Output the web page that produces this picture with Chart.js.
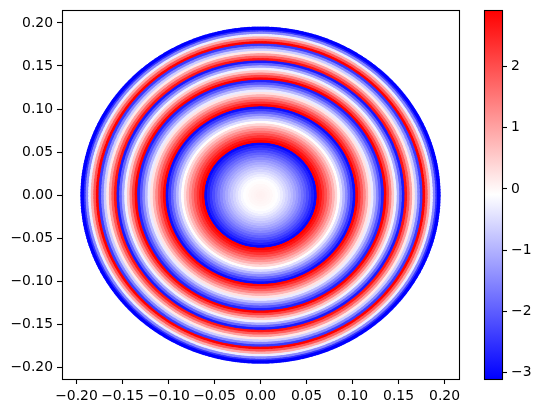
<!DOCTYPE html>
<html>
<head>
<meta charset="utf-8">
<script src="https://cdn.jsdelivr.net/npm/chart.js@4"></script>
<style>
body { margin: 0; background: #fff; }
canvas { position: absolute; top: 0; }
#cnvMain { left: 0; }
#cnvBar { left: 462px; }
</style>
</head>
<body>
<canvas id="cnvMain" width="542" height="413"></canvas>
<canvas id="cnvBar" width="80" height="413"></canvas>
<script>
// radial profile, centre to edge
var ringRadius = [0, 0.0016, 0.0044, 0.0072, 0.01, 0.0128, 0.0156, 0.0184, 0.0212, 0.024,
    0.0268, 0.0296, 0.0324, 0.0352, 0.038, 0.0408, 0.0436, 0.0464, 0.0492, 0.052,
    0.0548, 0.0576, 0.0604, 0.0632, 0.066, 0.0688, 0.0716, 0.0744, 0.0772, 0.08,
    0.0828, 0.0856, 0.0884, 0.0912, 0.094, 0.0968, 0.0996, 0.1024, 0.1052, 0.108,
    0.1108, 0.1136, 0.1164, 0.1192, 0.122, 0.1248, 0.1276, 0.1304, 0.1332, 0.136,
    0.1388, 0.1416, 0.1444, 0.1472, 0.15, 0.1528, 0.1556, 0.1584, 0.1612, 0.164,
    0.1668, 0.1696, 0.1724, 0.1752, 0.178, 0.1808, 0.1836, 0.1864, 0.1892, 0.192, 0.1938];
var ringPhase = [0.08, 0.07, 0.06, 0.04, 0.02, -0.01, -0.05, -0.10, -0.17, -0.30,
    -0.46, -0.60, -0.75, -0.92, -1.09, -1.29, -1.49, -1.71, -1.94, -2.18,
    -2.44, -2.71, -2.99, 2.92, 2.65, 2.30, 1.95, 1.57, 1.19, 0.78,
    0.37, -0.06, -0.50, -0.96, -1.43, -1.92, -2.42, -2.93, 2.85, 2.35,
    1.84, 1.32, 0.78, 0.24, -0.33, -0.90, -1.49, -2.09, -2.70, 2.92,
    2.15, 1.36, 0.56, -0.25, -1.08, -1.93, -2.79, 2.66, 1.85, 1.02,
    0.18, -0.68, -1.54, -2.43, 2.92, 1.90, 0.90, -0.30, -1.50, -2.50, -3.10];
var xTicks = [-0.20, -0.15, -0.10, -0.05, 0, 0.05, 0.10, 0.15, 0.20];
var yTicks = [-0.20, -0.15, -0.10, -0.05, 0, 0.05, 0.10, 0.15, 0.20];
var barTicks = [-3, -2, -1, 0, 1, 2];
var phaseMin = -3.105;
var phaseMax = 2.925;

var fuente = { family: "'DejaVu Sans'", size: 13.9 };

function colorFase(v) {
    var t = (v - phaseMin) / (phaseMax - phaseMin);
    if (t < 0) t = 0;
    if (t > 1) t = 1;
    if (t < 0.5) {
        var c = Math.round(255 * t * 2);
        return 'rgb(' + c + ',' + c + ',255)';
    }
    var d = Math.round(255 * (1 - t) * 2);
    return 'rgb(255,' + d + ',' + d + ')';
}

function etiqueta(v, dec) {
    var s = Math.abs(v).toFixed(dec);
    return v < 0 ? '\u2212' + s : s;
}

// the tick labels should not push the plot area around
function sinRelleno(s) {
    s.paddingTop = 0;
    s.paddingBottom = 0;
    s.paddingLeft = 0;
    s.paddingRight = 0;
}

// axes frame, all four sides
var marco = {
    id: 'marco',
    afterDraw: function (chart) {
        var a = chart.chartArea;
        var ctx = chart.ctx;
        ctx.save();
        ctx.strokeStyle = '#000';
        ctx.lineWidth = 1.1;
        ctx.strokeRect(a.left + 0.5, a.top + 0.5, a.right - a.left, a.bottom - a.top);
        ctx.restore();
    }
};

var puntos = [];
var colores = [];
for (let index = 0; index < ringRadius.length; index++) {
    for (let g = 0; g < 720; g++) {
        puntos.push({
            x: ringRadius[index] * Math.cos(g * Math.PI / 360),
            y: ringRadius[index] * Math.sin(g * Math.PI / 360)
        });
        colores.push(colorFase(ringPhase[index]));
    }
}

new Chart(document.getElementById('cnvMain').getContext('2d'), {
    type: 'scatter',
    data: {
        datasets: [{
            data: puntos,
            pointBackgroundColor: colores,
            pointBorderWidth: 0,
            pointRadius: 1.8
        }]
    },
    options: {
        responsive: false,
        animation: false,
        layout: { padding: { top: 10, right: 83, left: 0, bottom: 0 } },
        plugins: { legend: { display: false }, tooltip: { enabled: false } },
        scales: {
            x: {
                min: -0.2157,
                max: 0.2157,
                afterFit: function (s) { s.height = 34; sinRelleno(s); },
                afterBuildTicks: function (s) { s.ticks = xTicks.map(v => ({ value: v })); },
                border: { display: false },
                grid: { drawOnChartArea: false, tickLength: 5, tickColor: '#000', tickWidth: 1.1 },
                ticks: {
                    color: '#000', font: fuente, padding: 4, maxRotation: 0, autoSkip: false,
                    callback: function (v) { return etiqueta(v, 2); }
                }
            },
            y: {
                min: -0.2135,
                max: 0.215,
                afterFit: function (s) { s.width = 62; sinRelleno(s); },
                afterBuildTicks: function (s) { s.ticks = yTicks.map(v => ({ value: v })); },
                border: { display: false },
                grid: { drawOnChartArea: false, tickLength: 5, tickColor: '#000', tickWidth: 1.1 },
                ticks: {
                    color: '#000', font: fuente, padding: 4, autoSkip: false,
                    callback: function (v) { return etiqueta(v, 2); }
                }
            }
        }
    },
    plugins: [marco]
});

new Chart(document.getElementById('cnvBar').getContext('2d'), {
    type: 'bar',
    data: {
        labels: ['fase'],
        datasets: [{
            data: [[phaseMin, phaseMax]],
            barPercentage: 1,
            categoryPercentage: 1,
            backgroundColor: function (context) {
                var a = context.chart.chartArea;
                if (!a) return '#fff';
                var g = context.chart.ctx.createLinearGradient(0, a.bottom, 0, a.top);
                g.addColorStop(0, 'rgb(0,0,255)');
                g.addColorStop(0.5, 'rgb(255,255,255)');
                g.addColorStop(1, 'rgb(255,0,0)');
                return g;
            }
        }]
    },
    options: {
        responsive: false,
        animation: false,
        layout: { padding: { top: 10, right: 10, left: 22, bottom: 34 } },
        plugins: { legend: { display: false }, tooltip: { enabled: false } },
        scales: {
            x: { display: false },
            y: {
                position: 'right',
                min: phaseMin,
                max: phaseMax,
                afterFit: function (s) { s.width = 30; sinRelleno(s); },
                afterBuildTicks: function (s) { s.ticks = barTicks.map(v => ({ value: v })); },
                border: { display: false },
                grid: { drawOnChartArea: false, tickLength: 5, tickColor: '#000', tickWidth: 1.1 },
                ticks: {
                    color: '#000', font: fuente, padding: 4, autoSkip: false,
                    callback: function (v) { return etiqueta(v, 0); }
                }
            }
        }
    },
    plugins: [marco]
});
</script>
</body>
</html>
